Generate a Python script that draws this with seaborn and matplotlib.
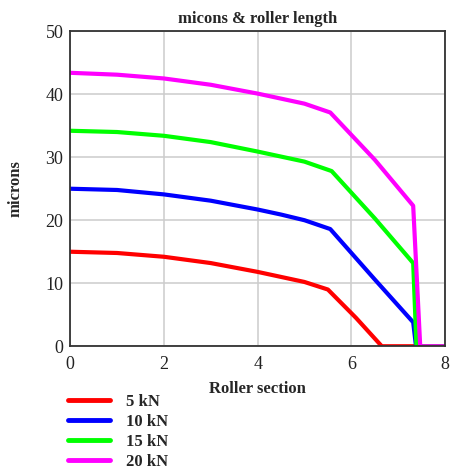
import pandas as pd
import seaborn as sns
from matplotlib import pyplot as plt

# values (x = roller section, y = microns)
x_5kN = [0, 1, 2, 3, 4, 4.5, 5, 5.5, 6.1, 6.65, 8]
y_5kN = [15.0, 14.8, 14.2, 13.2, 11.8, 11.0, 10.2, 9.0, 4.5, 0, 0]

x_10kN = [0, 1, 2, 3, 4, 4.5, 5, 5.55, 6.5, 7.32, 7.38, 8]
y_10kN = [25.0, 24.8, 24.1, 23.1, 21.7, 20.9, 20.0, 18.6, 10.6, 3.8, 0, 0]

x_15kN = [0, 1, 2, 3, 4, 4.5, 5, 5.58, 6.5, 7.32, 7.39, 8]
y_15kN = [34.2, 34.0, 33.4, 32.4, 30.9, 30.1, 29.3, 27.8, 20.3, 13.2, 0, 0]

x_20kN = [0, 1, 2, 3, 4, 4.5, 5, 5.55, 6.5, 7.32, 7.47, 8]
y_20kN = [43.4, 43.1, 42.5, 41.5, 40.1, 39.3, 38.5, 37.1, 29.6, 22.3, 0, 0]

labels = ['5 kN', '10 kN', '15 kN', '20 kN']
colors = ['#ff0000', '#0000ff', '#00ff00', '#ff00ff']

frames = []
for lab, xs, ys in zip(labels, [x_5kN, x_10kN, x_15kN, x_20kN],
                       [y_5kN, y_10kN, y_15kN, y_20kN]):
    frames.append(pd.DataFrame({'x': xs, 'y': ys, 'load': lab}))
df = pd.concat(frames, ignore_index=True)

sns.set_theme(style='white')
plt.rcParams['font.family'] = ['Liberation Serif', 'DejaVu Serif']

fig = plt.figure(figsize=(4.5, 4.73), dpi=100)
ax = fig.add_axes([0.156, 0.268, 0.833, 0.666])

sns.lineplot(data=df, x='x', y='y', hue='load', hue_order=labels,
             palette=colors, estimator=None, sort=False, linewidth=3,
             ax=ax, legend=False)

ax.set_xlim(0, 8)
ax.set_ylim(0, 50)
ax.set_xticks([0, 2, 4, 6, 8])
ax.set_yticks([0, 10, 20, 30, 40, 50])
ax.grid(True, color='#cccccc', linewidth=1.1)
ax.set_axisbelow(True)
for s in ax.spines.values():
    s.set_color('#333333')
    s.set_linewidth(1.3)
ax.tick_params(axis='both', length=0, labelsize=13, colors='#222222')
ax.tick_params(axis='x', pad=7)
ax.tick_params(axis='y', pad=5)

ax.set_title('micons & roller length', fontsize=12, fontweight='bold', pad=6)
ax.set_xlabel('Roller section', fontsize=12, fontweight='bold', labelpad=6)
ax.set_ylabel('microns', fontsize=12, fontweight='bold', labelpad=16)

handles = [plt.Line2D([], [], color=c, linewidth=3.5) for c in colors]
fig.legend(handles, labels, loc='upper left', bbox_to_anchor=(0.151, 0.168),
           frameon=False, prop={'weight': 'bold', 'size': 12},
           handlelength=2.5, handletextpad=1.0, labelspacing=0.24,
           borderaxespad=0, borderpad=0)

fig.savefig('out.png', dpi=100)
